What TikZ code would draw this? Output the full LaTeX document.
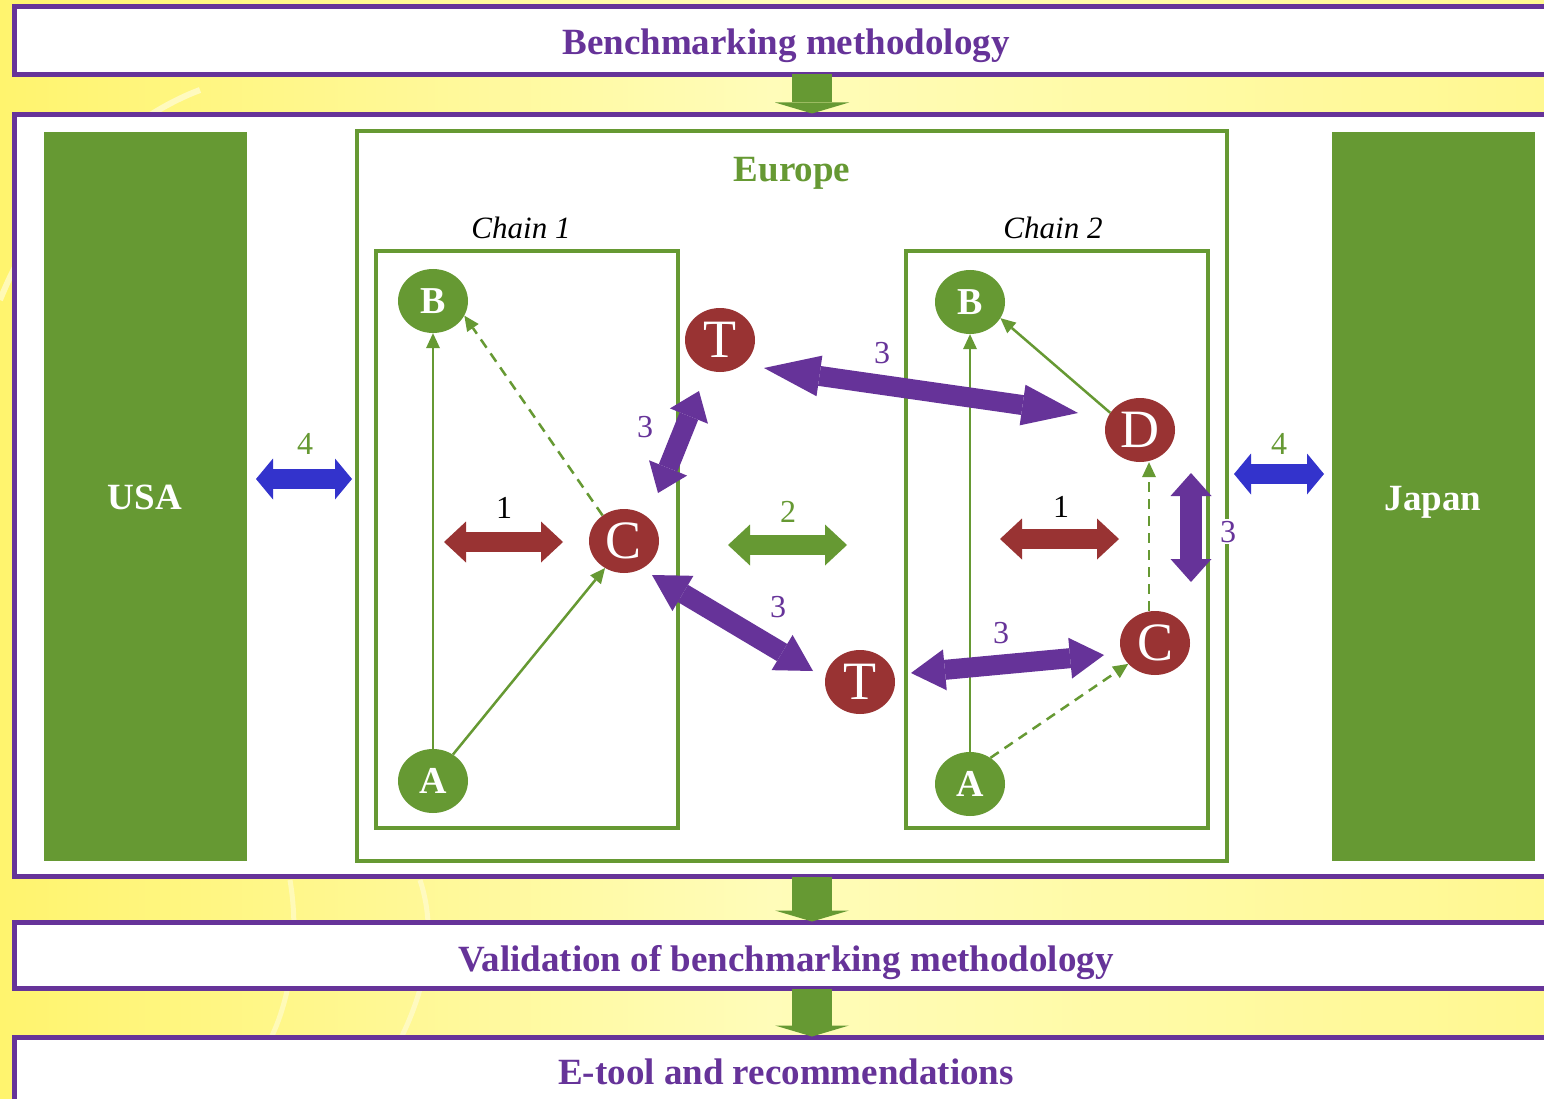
\documentclass[tikz,border=0pt]{standalone}
\usepackage{fontspec}
\setmainfont{Liberation Serif}
\usetikzlibrary{arrows.meta,shapes.geometric,calc}
\definecolor{ppurple}{RGB}{102,51,153}
\definecolor{pgreen}{RGB}{102,153,51}
\definecolor{pred}{RGB}{153,51,51}
\definecolor{pblue}{RGB}{51,51,204}
\definecolor{ylL}{RGB}{255,244,110}
\definecolor{ylM}{RGB}{255,252,185}
\definecolor{ylR}{RGB}{255,248,145}
\begin{document}
\begin{tikzpicture}[x=1pt,y=-1pt,
  pbox/.style={draw=ppurple,line width=5pt,fill=white,rectangle,inner sep=0pt,outer sep=0pt,anchor=north west,minimum width=1560pt},
  ttl/.style={text=ppurple,font=\fontsize{37}{40}\selectfont\bfseries,anchor=base,inner sep=0pt},
  region/.style={fill=pgreen,rectangle,inner sep=0pt,outer sep=0pt,minimum width=203pt,minimum height=729pt},
  rtxt/.style={text=white,font=\fontsize{37}{40}\selectfont\bfseries,anchor=base,inner sep=0pt},
  frame/.style={draw=pgreen,rectangle,inner sep=0pt,outer sep=0pt},
  chaintxt/.style={font=\fontsize{31}{34}\selectfont\itshape,anchor=base,inner sep=0pt},
  gnode/.style={ellipse,fill=pgreen,minimum width=70pt,minimum height=64pt,inner sep=0pt,text=white,font=\fontsize{38}{40}\selectfont\bfseries},
  rnode/.style={ellipse,fill=pred,minimum width=70pt,minimum height=64pt,inner sep=0pt,text=white,font=\fontsize{54}{56}\selectfont},
  glink/.style={draw=pgreen,line width=2.5pt,-{Triangle[length=15pt,width=14pt,line width=0pt]}},
  gdash/.style={glink,dash pattern=on 10pt off 7pt},
  darrow/.style={draw=pgreen,line width=40pt,-{Triangle[length=11pt,width=74pt,line width=0pt]}},
  barrow/.style={line width=20pt,arrows={Triangle[length=#1,width=41pt,line width=0pt]-Triangle[length=#1,width=41pt,line width=0pt]}},
  num/.style={font=\fontsize{32}{34}\selectfont,anchor=base,inner sep=0pt}
]
\useasboundingbox (0,0) rectangle (1544,1099);
\clip (0,0) rectangle (1544,1099);
% background
\shade[left color=ylL,right color=ylR,middle color=ylM] (0,0) rectangle (1544,1099);
\draw[white,opacity=0.5,line width=6pt] (0,300) .. controls (40,200) and (120,120) .. (200,90);
\draw[white,opacity=0.4,line width=5pt] (290,880) .. controls (300,940) and (290,1000) .. (270,1040);
\draw[white,opacity=0.4,line width=5pt] (420,880) .. controls (440,940) and (420,1000) .. (400,1040);

% stage boxes
\node[pbox,minimum height=67.5pt] (top) at (14.5,7) {};
\node[pbox,minimum height=762pt] (main) at (14.5,114.5) {};
\node[pbox,minimum height=66pt] (valid) at (14.5,922.5) {};
\node[pbox,minimum height=100pt] (etool) at (14.5,1037.5) {};
\node[ttl] (ttop) at (786,55) {Benchmarking methodology};
\node[ttl] (tvalid) at (786,971) {Validation of benchmarking methodology};
\node[ttl] (tetool) at (786,1084) {E-tool and recommendations};

% down arrows
\coordinate (ax) at (812,0);
\draw[darrow] (top.south -| ax) -- ([yshift=1pt]main.north -| ax);
\draw[darrow] (main.south -| ax) -- ([yshift=1pt]valid.north -| ax);
\draw[darrow] (valid.south -| ax) -- ([yshift=1pt]etool.north -| ax);

% regions
\node[region] (usa) at (145.5,496.5) {};
\node[region] (japan) at (1433.5,496.5) {};
\node[rtxt] at (145,509) {USA};
\node[rtxt] at (1433,510) {Japan};

% Europe frame and chains
\node[frame,line width=4.5pt,minimum width=870pt,minimum height=730pt] (europe) at (792,496) {};
\node[text=pgreen,font=\fontsize{37}{40}\selectfont\bfseries,anchor=base,inner sep=0pt] at (792,182) {Europe};
\node[frame,line width=3.5pt,minimum width=302pt,minimum height=577pt] (ch1) at (527,539.5) {};
\node[frame,line width=3.5pt,minimum width=302pt,minimum height=577pt] (ch2) at (1057,539.5) {};
\node[chaintxt] at (521,239) {Chain 1};
\node[chaintxt] at (1053,239) {Chain 2};

% nodes
\node[gnode] (B1) at (433,301) {B};
\node[gnode] (A1) at (433,781) {A};
\node[rnode] (C1) at (624,541) {C};
\node[rnode] (T1) at (720,340) {T};
\node[rnode] (T2) at (860,682) {T};
\node[gnode] (B2) at (970,302) {B};
\node[gnode] (A2) at (970,784) {A};
\node[rnode] (D) at (1140,430) {D};
\node[rnode] (C2) at (1155,643) {C};

% thin links
\draw[glink] (A1) -- (B1);
\draw[glink] (A1.53) -- (C1.235);
\draw[gdash] (C1.130) -- (B1.-25);
\draw[glink] (A2) -- (B2);
\draw[glink] (D.150) -- (B2.-28);
\draw[gdash] (A2.52) -- (C2.218);
\coordinate (cx) at (1149,0);
\draw[gdash] (C2.north -| cx) -- (D.south -| cx);

% block arrows
\coordinate (r1a) at (444,542); \coordinate (r1b) at (563,542);
\coordinate (g2a) at (728,545); \coordinate (g2b) at (847,545);
\coordinate (r2a) at (1000,539); \coordinate (r2b) at (1119,539);
\coordinate (b4a) at (256,479); \coordinate (b4b) at (352,479);
\coordinate (b5a) at (1234,474); \coordinate (b5b) at (1324,474);
\draw[barrow=22pt,pred] (r1a) -- (r1b);
\draw[barrow=22pt,pgreen] (g2a) -- (g2b);
\draw[barrow=22pt,pred] (r2a) -- (r2b);
\draw[barrow=17pt,pblue] (b4a) -- (b4b);
\draw[barrow=17pt,pblue] (b5a) -- (b5b);

\coordinate (p1a) at (658,493); \coordinate (p1b) at (699,391);
\coordinate (p2a) at (764,368); \coordinate (p2b) at (1078,413);
\coordinate (p3a) at (652,575); \coordinate (p3b) at (813,671);
\coordinate (p4a) at (911,673); \coordinate (p4b) at (1104,655);
\coordinate (p5a) at (1191,473); \coordinate (p5b) at (1191,582);
\draw[barrow=27pt,ppurple] (p1a) -- (p1b);
\draw[barrow=56pt,ppurple] (p2a) -- (p2b);
\draw[barrow=36pt,ppurple] (p3a) -- (p3b);
\draw[barrow=34pt,ppurple] (p4a) -- (p4b);
\draw[barrow=23pt,ppurple,line width=22pt] (p5a) -- (p5b);

% labels
\node[num] at (504,518) {1};
\node[num,text=pgreen] at (788,522) {2};
\node[num] at (1061,517) {1};
\node[num,text=pgreen] at (305,454) {4};
\node[num,text=pgreen] at (1279,454) {4};
\node[num,text=ppurple] at (645,437) {3};
\node[num,text=ppurple] at (882,363) {3};
\node[num,text=ppurple] at (778,617) {3};
\node[num,text=ppurple] at (1001,643) {3};
\node[num,text=ppurple,fill=white,inner sep=2pt] at (1228,542) {3};
\end{tikzpicture}
\end{document}
